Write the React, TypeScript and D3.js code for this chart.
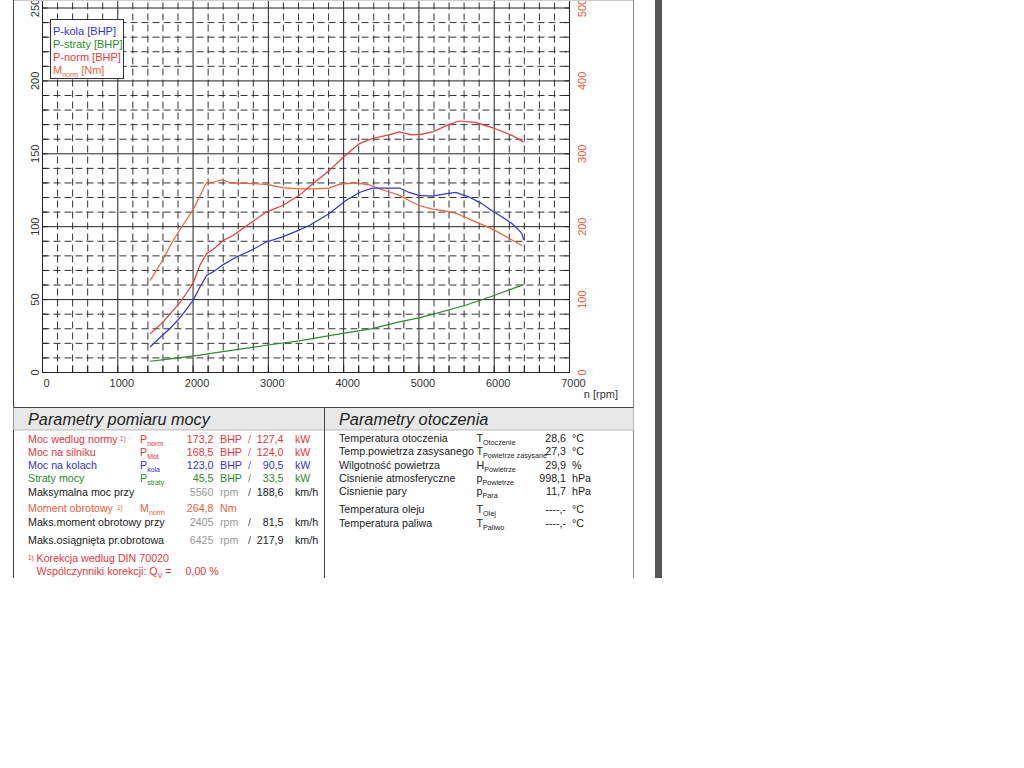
import React from "react";
import * as d3 from "d3";

// ---- Data ----
const pKola: [number, number][] = [
  [1430, 17.5], [1550, 23.5], [1690, 30], [1850, 39], [2000, 49.5], [2090, 58.5], [2180, 66.5], [2280, 69.5],
  [2400, 74], [2570, 79], [2800, 84.5], [2970, 89.5], [3190, 93], [3400, 97.5], [3550, 101], [3810, 109],
  [4030, 118], [4210, 123.5], [4380, 126.5], [4600, 126.5], [4740, 126.5], [4870, 123.5], [5000, 121.5],
  [5180, 121], [5350, 122.5], [5490, 123.5], [5660, 120.5], [5830, 116], [5970, 111], [6110, 106.5],
  [6240, 102], [6330, 97.5], [6370, 95], [6390, 91],
];
const pNorm: [number, number][] = [
  [1430, 26.5], [1600, 34.5], [1820, 47.5], [2000, 61], [2090, 73.5], [2180, 81.5], [2270, 84.5], [2400, 90.5],
  [2530, 94], [2750, 102], [2970, 110], [3190, 114.5], [3410, 121.5], [3590, 129.5], [3810, 138.5],
  [3990, 147.5], [4210, 157], [4380, 160.5], [4600, 163], [4740, 165], [4900, 163], [5050, 163.5],
  [5180, 165], [5350, 169], [5530, 172.5], [5750, 171.5], [5970, 168], [6100, 165.5], [6240, 162.5], [6390, 158],
];
const mNorm: [number, number][] = [
  [1430, 126], [1600, 155], [1735, 181], [1870, 203], [2000, 223], [2090, 242], [2180, 261], [2270, 261],
  [2390, 264.5], [2490, 260], [2700, 259.5], [2970, 258], [3190, 253.5], [3410, 252], [3600, 252],
  [3810, 253], [3940, 258], [4160, 260], [4340, 257.5], [4470, 252], [4600, 248], [4740, 243], [4870, 236],
  [5000, 229], [5180, 224], [5330, 222], [5490, 218.5], [5700, 209], [5970, 197], [6150, 187], [6250, 181], [6370, 174],
];
const pStraty: [number, number][] = [
  [1430, 7.7], [1700, 9.3], [2090, 11.9], [2350, 14], [2600, 15.8], [2970, 18.7], [3410, 21.7], [3850, 25.6],
  [4380, 30.1], [4740, 34.7], [5000, 37.5], [5180, 39.9], [5620, 46.1], [5970, 52.3], [6390, 60.3],
];

const xTicks = [0, 1000, 2000, 3000, 4000, 5000, 6000, 7000];
const yLeftTicks = [0, 50, 100, 150, 200, 250];
const yRightTicks = [0, 100, 200, 300, 400, 500];

const legendItems = [
  { label: "P-kola [BHP]", color: "#3434d0" },
  { label: "P-straty [BHP]", color: "#2e8b2e" },
  { label: "P-norm [BHP]", color: "#e8383d" },
  { label: "M", sub: "norm", after: " [Nm]", color: "#f0603a" },
];

const RED = "#e8383d";
const ORANGE = "#f0603a";
const BLUE = "#3434d0";
const GREEN = "#2e8b2e";
const BLACK = "#222";
const GRAY = "#999";

type Row = {
  label: string; sup?: number; labelColor: string;
  sym?: string; sub?: string; symColor?: string;
  v1?: string; u1?: string; c1?: string;
  slash?: boolean; slashColor?: string;
  v2?: string; u2?: string; c2?: string;
};

const leftRows: Row[] = [
  { label: "Moc wedlug normy", sup: 120, labelColor: RED, sym: "P", sub: "norm", symColor: RED, v1: "173,2", u1: "BHP", c1: RED, slash: true, slashColor: RED, v2: "127,4", u2: "kW", c2: RED },
  { label: "Moc na silniku", labelColor: RED, sym: "P", sub: "Mot", symColor: RED, v1: "168,5", u1: "BHP", c1: RED, slash: true, slashColor: RED, v2: "124,0", u2: "kW", c2: RED },
  { label: "Moc na kolach", labelColor: BLUE, sym: "P", sub: "kola", symColor: BLUE, v1: "123,0", u1: "BHP", c1: BLUE, slash: true, slashColor: BLUE, v2: "90,5", u2: "kW", c2: BLUE },
  { label: "Straty mocy", labelColor: GREEN, sym: "P", sub: "straty", symColor: GREEN, v1: "45,5", u1: "BHP", c1: GREEN, slash: true, slashColor: GREEN, v2: "33,5", u2: "kW", c2: GREEN },
  { label: "Maksymalna moc przy", labelColor: BLACK, v1: "5560", u1: "rpm", c1: GRAY, slash: true, slashColor: BLACK, v2: "188,6", u2: "km/h", c2: BLACK },
  { label: "Moment obrotowy", sup: 117, labelColor: ORANGE, sym: "M", sub: "norm", symColor: ORANGE, v1: "264,8", u1: "Nm", c1: ORANGE },
  { label: "Maks.moment obrotowy przy", labelColor: BLACK, v1: "2405", u1: "rpm", c1: GRAY, slash: true, slashColor: BLACK, v2: "81,5", u2: "km/h", c2: BLACK },
  { label: "Maks.osiągnięta pr.obrotowa", labelColor: BLACK, v1: "6425", u1: "rpm", c1: GRAY, slash: true, slashColor: BLACK, v2: "217,9", u2: "km/h", c2: BLACK },
];
const leftBaselines = [442.5, 455.8, 469.1, 482.4, 495.7, 512.3, 525.6, 544.3];

const rightRows = [
  { label: "Temperatura otoczenia", sym: "T", sub: "Otoczenie", v: "28,6", u: "°C" },
  { label: "Temp.powietrza zasysanego", sym: "T", sub: "Powietrze zasysane", v: "27,3", u: "°C" },
  { label: "Wilgotność powietrza", sym: "H", sub: "Powietrze", v: "29,9", u: "%" },
  { label: "Cisnienie atmosferyczne", sym: "p", sub: "Powietrze", v: "998,1", u: "hPa" },
  { label: "Cisnienie pary", sym: "p", sub: "Para", v: "11,7", u: "hPa" },
  { label: "Temperatura oleju", sym: "T", sub: "Olej", v: "----,-", u: "°C" },
  { label: "Temperatura paliwa", sym: "T", sub: "Paliwo", v: "----,-", u: "°C" },
];
const rightBaselines = [442, 455.3, 468.6, 481.6, 494.9, 513.3, 526.6];

const FONT = "'Liberation Sans', Arial, sans-serif";
const FS = 10.7;

export default function App() {
  const x = d3.scaleLinear().domain([0, 7000]).range([42.5, 569.5]);
  const yL = d3.scaleLinear().domain([0, 250]).range([372.5, 8]);
  const yR = d3.scaleLinear().domain([0, 500]).range([372.5, 8]);
  const top = yL(260);

  const lineL = d3.line<[number, number]>().x((d) => x(d[0])).y((d) => yL(d[1]));
  const lineR = d3.line<[number, number]>().x((d) => x(d[0])).y((d) => yR(d[1]));

  const vGrid = d3.range(0, 7001, 200);
  const hGrid = d3.range(0, 261, 10);

  return (
    <svg width={1024} height={768} style={{ position: "absolute", left: 0, top: 0, background: "#fff" }} fontFamily={FONT}>
      <rect x={0} y={0} width={1024} height={768} fill="#fff" />
      {/* grid */}
      {vGrid.map((v) => (
        <line key={"v" + v} x1={x(v)} x2={x(v)} y1={yL(0)} y2={top}
          stroke={v % 1000 === 0 ? "#222" : "#333"} strokeWidth={1}
          strokeDasharray={v % 1000 === 0 ? undefined : "7,4"} />
      ))}
      {hGrid.map((v) => (
        <line key={"h" + v} x1={x(0)} x2={x(7000)} y1={yL(v)} y2={yL(v)}
          stroke={v % 50 === 0 ? "#222" : "#333"} strokeWidth={1}
          strokeDasharray={v % 50 === 0 ? undefined : "7,4"} />
      ))}
      {/* inner ticks */}
      {vGrid.map((v) => (
        <line key={"tb" + v} x1={x(v)} x2={x(v)} y1={yL(0)} y2={yL(0) - 7} stroke="#222" />
      ))}
      {hGrid.map((v) => (
        <g key={"tl" + v}>
          <line x1={x(0)} x2={x(0) + 5} y1={yL(v)} y2={yL(v)} stroke="#222" />
          <line x1={x(7000)} x2={x(7000) - 5} y1={yL(v)} y2={yL(v)} stroke="#222" />
        </g>
      ))}
      {/* frame */}
      <line x1={x(0)} x2={x(0)} y1={top} y2={yL(0)} stroke="#222" />
      <line x1={x(7000)} x2={x(7000)} y1={top} y2={yL(0)} stroke="#222" />
      <line x1={x(0)} x2={x(7000)} y1={yL(0)} y2={yL(0)} stroke="#222" />

      {/* curves */}
      <path d={lineL(pStraty) || ""} fill="none" stroke={GREEN} strokeWidth={1.2} />
      <path d={lineR(mNorm) || ""} fill="none" stroke={ORANGE} strokeWidth={1.2} />
      <path d={lineL(pNorm) || ""} fill="none" stroke={RED} strokeWidth={1.2} />
      <path d={lineL(pKola) || ""} fill="none" stroke={BLUE} strokeWidth={1.2} />

      {/* axis labels */}
      {yLeftTicks.map((v) => (
        <text key={"yl" + v} transform={`translate(39,${yL(v)}) rotate(-90)`} textAnchor="middle" fontSize={11} fill="#333">{v}</text>
      ))}
      {yRightTicks.map((v) => (
        <text key={"yr" + v} transform={`translate(586,${yR(v)}) rotate(-90)`} textAnchor="middle" fontSize={11} fill={ORANGE}>{v}</text>
      ))}
      {xTicks.map((v) => (
        <text key={"x" + v} x={x(v) + 4} y={387} textAnchor="middle" fontSize={11} fill="#333">{v}</text>
      ))}
      <text x={618} y={398} textAnchor="end" fontSize={11} fill="#333">n [rpm]</text>

      {/* legend */}
      <rect x={50.5} y={19.5} width={73} height={59} fill="#fff" stroke="#333" />
      {legendItems.map((it, i) => (
        <text key={"lg" + i} x={53} y={35 + i * 13} fontSize={11} fill={it.color}>
          {it.label}
          {it.sub ? <tspan fontSize={7} dy={3}>{it.sub}</tspan> : null}
          {it.after ? <tspan dy={-3}>{it.after}</tspan> : null}
        </text>
      ))}

      {/* page frame */}
      <line x1={13.5} x2={633.5} y1={0.5} y2={0.5} stroke="#ccc" />
      <line x1={13.5} x2={13.5} y1={0} y2={578} stroke="#444" />
      <line x1={633.5} x2={633.5} y1={0} y2={578} stroke="#888" />
      <rect x={655} y={0} width={7} height={578} fill="#555" />

      {/* table */}
      <rect x={13.5} y={407.5} width={620} height={22.5} fill="#e8e8e8" />
      <line x1={13.5} x2={633.5} y1={407.5} y2={407.5} stroke="#444" />
      <line x1={13.5} x2={633.5} y1={430} y2={430} stroke="#bbb" />
      <line x1={324.5} x2={324.5} y1={407.5} y2={578} stroke="#444" />
      <text x={28} y={425} fontSize={16.3} fontStyle="italic" fill="#222">Parametry pomiaru mocy</text>
      <text x={339} y={425} fontSize={16.3} fontStyle="italic" fill="#222">Parametry otoczenia</text>

      {leftRows.map((r, i) => {
        const b = leftBaselines[i];
        return (
          <g key={"lr" + i} fontSize={FS}>
            <text x={28} y={b} fill={r.labelColor}>{r.label}</text>
            {r.sup ? <text x={r.sup} y={b - 2} fontSize={6.5} fill={r.labelColor}>1)</text> : null}
            {r.sym ? (
              <text x={140} y={b} fill={r.symColor}>
                {r.sym}<tspan fontSize={7} dy={3}>{r.sub}</tspan>
              </text>
            ) : null}
            {r.v1 ? <text x={213.5} y={b} textAnchor="end" fill={r.c1}>{r.v1}</text> : null}
            {r.u1 ? <text x={220} y={b} fill={r.c1}>{r.u1}</text> : null}
            {r.slash ? <text x={248} y={b} fill={r.slashColor} opacity={0.8}>/</text> : null}
            {r.v2 ? <text x={283.5} y={b} textAnchor="end" fill={r.c2}>{r.v2}</text> : null}
            {r.u2 ? <text x={295} y={b} fill={r.c2}>{r.u2}</text> : null}
          </g>
        );
      })}
      <text x={28} y={560} fontSize={6.5} fill={RED}>1)</text>
      <text x={36.5} y={562} fontSize={FS} fill={RED}>Korekcja wedlug DIN 70020</text>
      <text x={36.5} y={575} fontSize={FS} fill={RED}>
        Wspólczynniki korekcji: Q<tspan fontSize={7} dy={3}>V</tspan><tspan dy={-3}> =</tspan>
      </text>
      <text x={185.5} y={575} fontSize={FS} fill={RED}>0,00 %</text>

      {rightRows.map((r, i) => {
        const b = rightBaselines[i];
        return (
          <g key={"rr" + i} fontSize={FS} fill={BLACK}>
            <text x={339} y={b}>{r.label}</text>
            <text x={476.5} y={b}>
              {r.sym}<tspan fontSize={7.2} dy={3}>{r.sub}</tspan>
            </text>
            <text x={566} y={b} textAnchor="end">{r.v}</text>
            <text x={572} y={b}>{r.u}</text>
          </g>
        );
      })}
    </svg>
  );
}
